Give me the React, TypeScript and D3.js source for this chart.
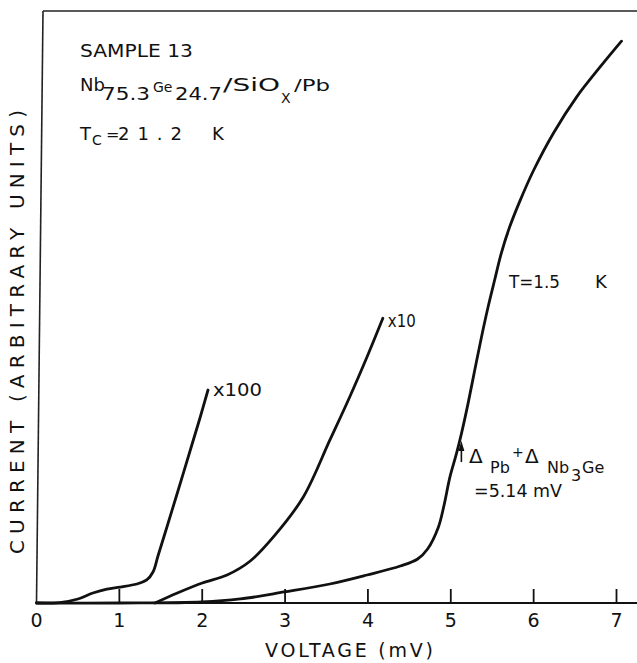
import React from "react";
import * as d3 from "d3";

// ---- data (voltage in mV, current in arbitrary units 0-100) ----
const xTicks = [0, 1, 2, 3, 4, 5, 6, 7];
const xTickLabels = ["0", "1", "2", "3", "4", "5", "6", "7"];

const curveT15V = [0, 1.0, 2.0, 2.46, 2.99, 3.54, 3.99, 4.39, 4.6, 4.72, 4.85, 4.92, 4.99, 5.07, 5.13, 5.21, 5.29, 5.37, 5.45, 5.53, 5.61, 5.71, 5.84, 6.0, 6.24, 6.52, 6.8, 7.06];
const curveT15I = [0, 0, 0.17, 0.68, 1.86, 3.21, 4.73, 6.25, 7.43, 9.12, 12.8, 16.6, 21.3, 25.3, 28.7, 33.8, 39.4, 44.9, 50.0, 54.6, 59.1, 63.5, 68.1, 73.1, 79.4, 85.5, 90.5, 94.9];

const curveX10V = [1.43, 1.7, 2.0, 2.3, 2.58, 2.88, 3.22, 3.54, 3.78, 3.99, 4.18];
const curveX10I = [0, 1.69, 3.38, 4.73, 7.09, 11.5, 17.9, 27.5, 34.8, 41.6, 48.1];

const curveX100V = [0, 0.28, 0.5, 0.68, 0.85, 1.01, 1.21, 1.33, 1.406, 1.466, 1.563, 1.696, 1.853, 1.973, 2.07];
const curveX100I = [0, 0.08, 0.68, 1.69, 2.36, 2.7, 3.21, 3.89, 5.24, 7.94, 12.33, 18.41, 25.68, 31.25, 35.98];

const gapVoltage = 5.14;

const FONT = "'DejaVu Sans', sans-serif";
const INK = "#111";

export default function App() {
  const W = 637;
  const H = 663;
  const x = d3.scaleLinear().domain([0, 7]).range([36.5, 616.5]);
  const y = d3.scaleLinear().domain([0, 100]).range([603, 11]);

  const line = d3
    .line<[number, number]>()
    .x((d) => x(d[0]))
    .y((d) => y(d[1]))
    .curve(d3.curveCatmullRom.alpha(0.5));

  const zip = (a: number[], b: number[]) => a.map((v, i) => [v, b[i]] as [number, number]);
  const sT15 = zip(curveT15V, curveT15I);
  const sX10 = zip(curveX10V, curveX10I);
  const sX100 = zip(curveX100V, curveX100I);

  const endX10 = sX10[sX10.length - 1];
  const endX100 = sX100[sX100.length - 1];
  const arrowX = x(gapVoltage) - 1;
  const SG = "spacingAndGlyphs";

  return (
    <svg
      width={W}
      height={H}
      style={{ position: "absolute", left: 0, top: 0, background: "#fff" }}
      fontFamily={FONT}
    >
      {/* frame */}
      <line x1={43} y1={11} x2={W} y2={11} stroke="#222" strokeWidth={1.4} />
      <line x1={43} y1={11} x2={36.5} y2={603} stroke="#222" strokeWidth={1.6} />
      <line x1={36} y1={603} x2={W} y2={603} stroke={INK} strokeWidth={2.2} />

      {/* ticks */}
      {xTicks.map((t, i) => (
        <g key={t}>
          {t > 0 && (
            <line x1={x(t)} x2={x(t)} y1={603} y2={589} stroke={INK} strokeWidth={1.8} />
          )}
          <text x={x(t)} y={627} fontSize={19} textAnchor="middle" fill={INK}>
            {xTickLabels[i]}
          </text>
        </g>
      ))}

      {/* axis titles */}
      <text x={265} y={657} fontSize={19} fill={INK} textLength={168} lengthAdjust="spacing">
        VOLTAGE (mV)
      </text>
      <text
        transform="translate(24,554) rotate(-90)"
        x={0}
        y={0}
        fontSize={20}
        fill={INK}
        textLength={444}
        lengthAdjust="spacing"
      >
        CURRENT (ARBITRARY UNITS)
      </text>

      {/* curves */}
      {[sX100, sX10, sT15].map((s, i) => (
        <path
          key={i}
          d={line(s) || ""}
          fill="none"
          stroke={INK}
          strokeWidth={2.8}
          strokeLinecap="round"
          strokeLinejoin="round"
        />
      ))}

      {/* curve labels */}
      <text x={x(endX100[0]) + 5} y={y(endX100[1]) + 6} fontSize={18} fill={INK} textLength={49} lengthAdjust={SG}>
        x100
      </text>
      <text x={x(endX10[0]) + 5} y={y(endX10[1]) + 9} fontSize={18} fill={INK} textLength={28} lengthAdjust={SG}>
        x10
      </text>
      <text x={509} y={288} fontSize={18} fill={INK} textLength={51} lengthAdjust={SG}>
        T=1.5
      </text>
      <text x={595} y={288} fontSize={18} fill={INK}>
        K
      </text>

      {/* gap annotation arrow */}
      <line x1={arrowX} x2={arrowX} y1={462} y2={448} stroke={INK} strokeWidth={1.6} />
      <path d={`M${arrowX},441 L${arrowX - 3},451 L${arrowX + 3},451 Z`} fill={INK} />
      <text x={469} y={463} fontSize={20} fill={INK}>Δ</text>
      <text x={490} y={473} fontSize={16} fill={INK}>Pb</text>
      <text x={512} y={457} fontSize={14} fill={INK}>+</text>
      <text x={525} y={463} fontSize={20} fill={INK}>Δ</text>
      <text x={547} y={473} fontSize={16} fill={INK}>Nb</text>
      <text x={571} y={481} fontSize={16} fill={INK}>3</text>
      <text x={582} y={473} fontSize={16} fill={INK}>Ge</text>
      <text x={474} y={497} fontSize={18} fill={INK} textLength={88} lengthAdjust={SG}>
        =5.14 mV
      </text>

      {/* sample description */}
      <text x={80} y={57} fontSize={18} fill={INK} textLength={113} lengthAdjust={SG}>
        SAMPLE 13
      </text>
      <text x={80} y={91} fontSize={18} fill={INK}>Nb</text>
      <text x={102} y={100} fontSize={17} fill={INK} textLength={48} lengthAdjust={SG}>75.3</text>
      <text x={153} y={92} fontSize={14} fill={INK}>Ge</text>
      <text x={175} y={100} fontSize={17} fill={INK} textLength={47} lengthAdjust={SG}>24.7</text>
      <text x={223} y={91} fontSize={18} fill={INK} textLength={57} lengthAdjust={SG}>/SiO</text>
      <text x={281} y={103} fontSize={14} fill={INK}>X</text>
      <text x={294} y={91} fontSize={15} fill={INK} textLength={36} lengthAdjust={SG}>/Pb</text>

      <text x={80} y={140} fontSize={18} fill={INK}>T</text>
      <text x={92} y={145} fontSize={14} fill={INK}>C</text>
      <text x={106} y={140} fontSize={16} fill={INK}>=</text>
      <text x={118} y={140} fontSize={18} fill={INK} textLength={64} lengthAdjust="spacing">21.2</text>
      <text x={212} y={140} fontSize={18} fill={INK}>K</text>
    </svg>
  );
}
